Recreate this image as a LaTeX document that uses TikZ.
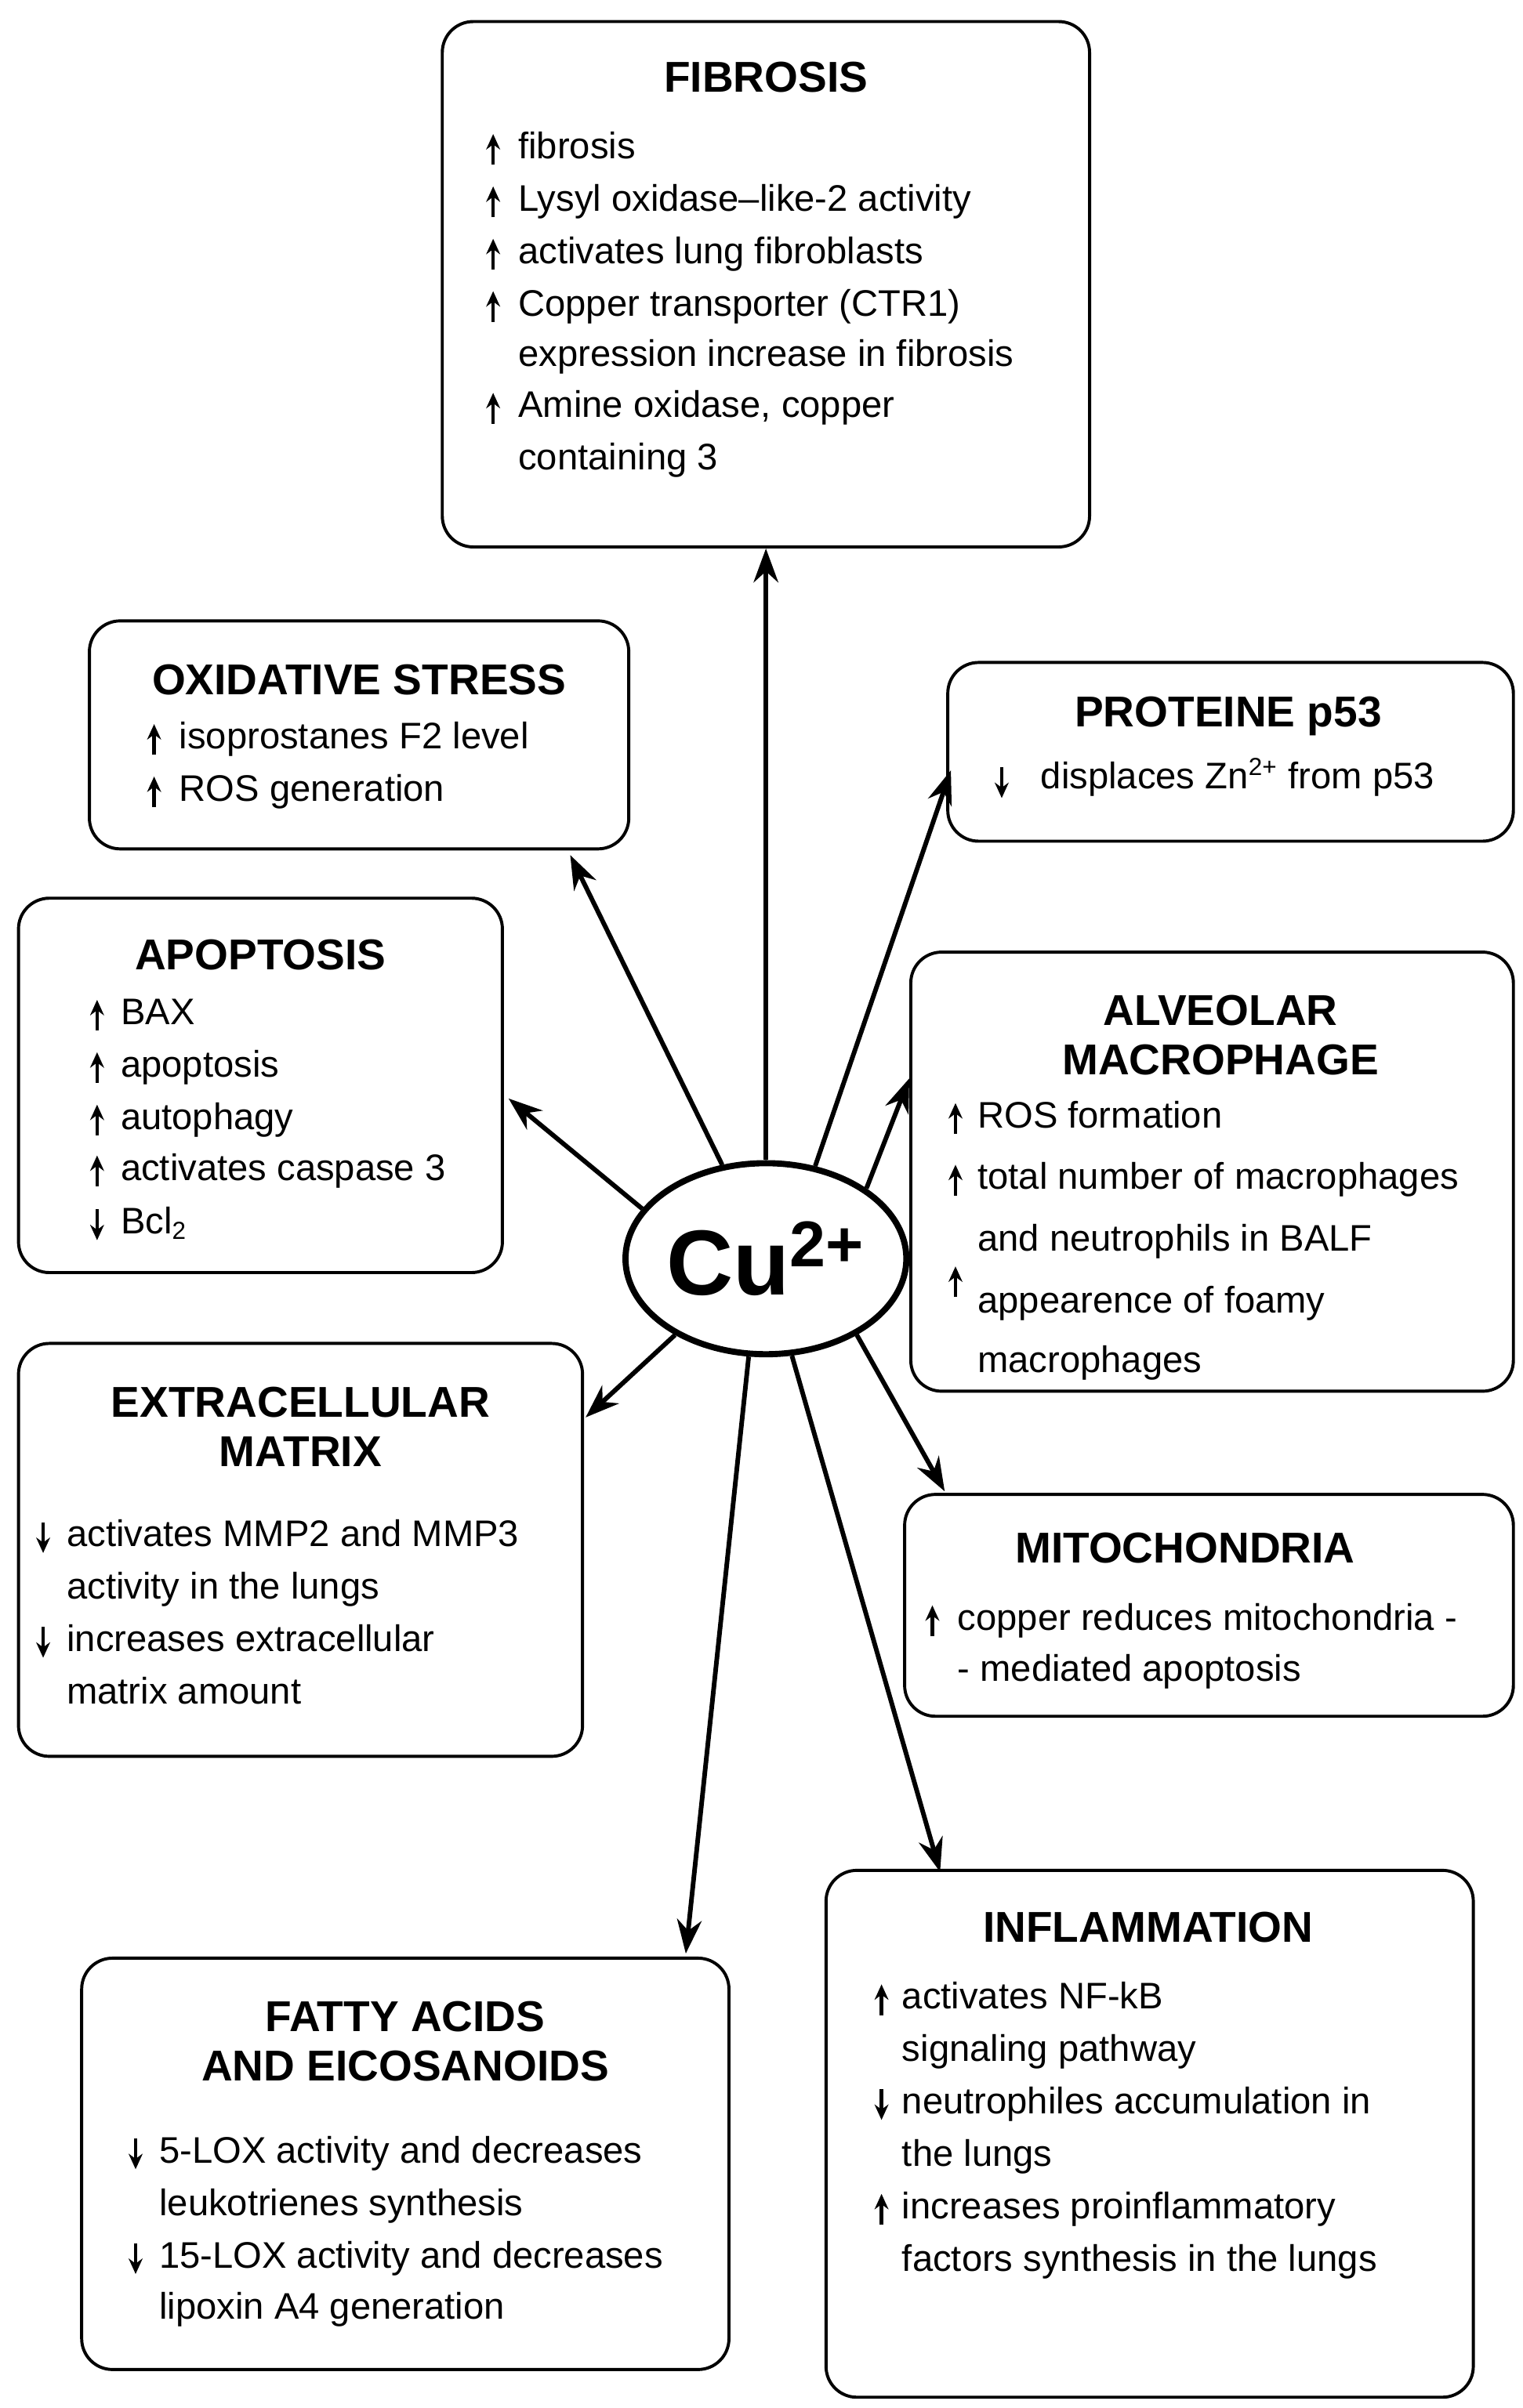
\documentclass[tikz,border=0pt]{standalone}
\usepackage{fontspec}
\setmainfont{Liberation Sans}
\usetikzlibrary{arrows.meta,shapes.geometric}
\begin{document}
\begin{tikzpicture}[x=0.5pt,y=-0.5pt,
 box/.style={draw,line width=1pt,rounded corners=10pt},
 ttl/.style={font=\fontsize{14}{16}\selectfont\bfseries,align=center},
 txt/.style={anchor=base west,inner sep=0pt,font=\fontsize{12}{14}\selectfont},
 arr/.style={line width=1.5pt,-{Stealth[length=11pt,width=8pt]}},
 ua/.style={line width=1.1pt,-{Stealth[length=5pt,width=4.5pt]}}]
\useasboundingbox (0,0) rectangle (988,1563);
\newcommand\myup[2]{\draw[ua] (#1,#2+10) -- (#1,#2-10);}
\newcommand\mydn[2]{\draw[ua] (#1,#2-10) -- (#1,#2+10);}
\newcommand\myln[3]{\node[txt] at (#1,#2+6) {#3};}
% boxes
\node[box,minimum width=210pt,minimum height=170.5pt] (fib) at (497,184.5) {};
\node[box,minimum width=175pt,minimum height=74pt] (oxs) at (233,477) {};
\node[box,minimum width=183.5pt,minimum height=58pt] (p53) at (798.5,488) {};
\node[box,minimum width=157pt,minimum height=121.5pt] (apo) at (169,704.5) {};
\node[box,minimum width=195.5pt,minimum height=142.5pt] (alv) at (786.5,760.5) {};
\node[box,minimum width=183pt,minimum height=134pt] (ecm) at (195,1006) {};
\node[box,minimum width=197.5pt,minimum height=72pt] (mit) at (784.5,1042) {};
\node[box,minimum width=210pt,minimum height=171pt] (inf) at (746,1385) {};
\node[box,minimum width=210pt,minimum height=133.5pt] (fat) at (263,1404.5) {};
\node[draw,ellipse,line width=2pt,minimum width=70pt,minimum height=62pt,inner sep=0pt] (cu) at (497,817)
 {\fontsize{30}{32}\selectfont\bfseries Cu\textsuperscript{2+}};
% connector end points
\coordinate (eox) at (370,555);
\coordinate (ep) at (617,500);
\coordinate (eap) at (330,713);
\coordinate (eal) at (590,700);
\coordinate (eec) at (380,920);
\coordinate (emi) at (613,968);
\coordinate (ein) at (610,1215);
\coordinate (efa) at (445,1268);
\draw[arr] (cu.north) -- (fib.south);
\draw[arr] (cu.115) -- (eox);
\draw[arr] (cu.62) -- (ep);
\draw[arr] (cu.158) -- (eap);
\draw[arr] (cu.35) -- (eal);
\draw[arr] (cu.220) -- (eec);
\draw[arr] (cu.-40) -- (emi);
\draw[arr] (cu.-75) -- (ein);
\draw[arr] (cu.-100) -- (efa);
% fibrosis
\node[ttl] at (497,50) {FIBROSIS};
\myup{320}{97}\myln{336}{97}{fibrosis}
\myup{320}{131}\myln{336}{131}{Lysyl oxidase–like-2 activity}
\myup{320}{165}\myln{336}{165}{activates lung fibroblasts}
\myup{320}{199}\myln{336}{199}{Copper transporter (CTR1)}
\myln{336}{232}{expression increase in fibrosis}
\myup{320}{265}\myln{336}{265}{Amine oxidase, copper}
\myln{336}{299}{containing 3}
% oxidative
\node[ttl] at (233,441) {OXIDATIVE STRESS};
\myup{100}{480}\myln{116}{480}{isoprostanes F2 level}
\myup{100}{514}\myln{116}{514}{ROS generation}
% p53
\node[ttl] at (797,465) {PROTEINE p53};
\mydn{650}{508}\myln{675}{506}{displaces Zn\textsuperscript{2+} from p53}
% apoptosis
\node[ttl] at (169,620) {APOPTOSIS};
\myup{63}{659}\myln{78}{659}{BAX}
\myup{63}{693}\myln{78}{693}{apoptosis}
\myup{63}{727}\myln{78}{727}{autophagy}
\myup{63}{760}\myln{78}{760}{activates caspase 3}
\mydn{63}{795}\myln{78}{795}{Bcl\textsubscript{2}}
% alveolar
\node[ttl] at (792,672) {ALVEOLAR\\MACROPHAGE};
\myup{620}{726}\myln{634}{726}{ROS formation}
\myup{620}{766}\myln{634}{766}{total number of macrophages}
\myln{634}{806}{and neutrophils in BALF}
\myup{620}{832}\myln{634}{846}{appearence of foamy}
\myln{634}{885}{macrophages}
% ecm
\node[ttl] at (195,926) {EXTRACELLULAR\\MATRIX};
\mydn{28}{998}\myln{43}{998}{activates MMP2 and MMP3}
\myln{43}{1032}{activity in the lungs}
\mydn{28}{1066}\myln{43}{1066}{increases extracellular}
\myln{43}{1100}{matrix amount}
% mito
\node[ttl] at (769,1005) {MITOCHONDRIA};
\myup{605}{1052}\myln{621}{1052}{copper reduces mitochondria -}
\myln{621}{1085}{- mediated apoptosis}
% inflammation
\node[ttl] at (745,1251) {INFLAMMATION};
\myup{572}{1298}\myln{585}{1298}{activates NF-kB}
\myln{585}{1332}{signaling pathway}
\mydn{572}{1366}\myln{585}{1366}{neutrophiles accumulation in}
\myln{585}{1400}{the lungs}
\myup{572}{1434}\myln{585}{1434}{increases proinflammatory}
\myln{585}{1468}{factors synthesis in the lungs}
% fatty
\node[ttl] at (263,1325) {FATTY ACIDS\\AND EICOSANOIDS};
\mydn{88}{1398}\myln{103}{1398}{5-LOX activity and decreases}
\myln{103}{1432}{leukotrienes synthesis}
\mydn{88}{1466}\myln{103}{1466}{15-LOX activity and decreases}
\myln{103}{1499}{lipoxin A4 generation}
\end{tikzpicture}
\end{document}
